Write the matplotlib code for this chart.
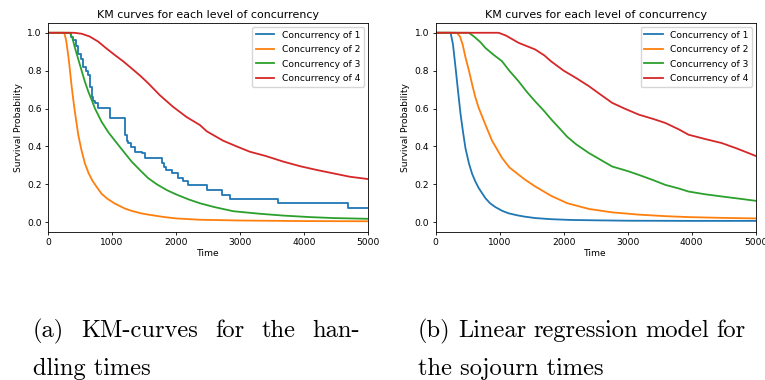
from __future__ import annotations

import matplotlib

matplotlib.use("Agg")
import matplotlib.pyplot as plt
import numpy as np


LABELS = ["Concurrency of 1", "Concurrency of 2", "Concurrency of 3", "Concurrency of 4"]
COLORS = ["#1f77b4", "#ff7f0e", "#2ca02c", "#d62728"]
X_TICKS = [0, 1000, 2000, 3000, 4000, 5000]
Y_TICKS = [0.0, 0.2, 0.4, 0.6, 0.8, 1.0]

# (a) handling times -- KM estimates
hand_t1 = [0, 360, 390, 430, 470, 510, 548, 590, 626, 652, 678, 705, 730, 783, 966,
           1200, 1225, 1253, 1300, 1357, 1461, 1513, 1774, 1810, 1850, 1931, 2035,
           2113, 2191, 2479, 2713, 2843, 3599, 4695, 5000]
hand_s1 = [1.0, 0.98, 0.96, 0.93, 0.89, 0.86, 0.82, 0.80, 0.777, 0.715, 0.663, 0.64,
           0.628, 0.601, 0.549, 0.46, 0.43, 0.416, 0.399, 0.373, 0.364, 0.338, 0.312,
           0.294, 0.276, 0.259, 0.232, 0.215, 0.197, 0.170, 0.144, 0.123, 0.10, 0.074,
           0.074]
hand_t2 = [0, 250, 280, 313, 340, 365, 390, 418, 444, 470, 520, 574, 630, 690, 760,
           835, 920, 1044, 1200, 1305, 1450, 1566, 1800, 2000, 2374, 3000, 4000, 5000]
hand_s2 = [1.0, 1.0, 0.96, 0.88, 0.80, 0.72, 0.65, 0.58, 0.52, 0.46, 0.38, 0.31, 0.26,
           0.22, 0.185, 0.15, 0.125, 0.098, 0.072, 0.06, 0.047, 0.04, 0.028, 0.02,
           0.013, 0.009, 0.006, 0.005]
hand_t3 = [0, 340, 380, 418, 470, 522, 575, 626, 680, 731, 783, 835, 940, 1044, 1150,
           1305, 1450, 1566, 1700, 1853, 2000, 2200, 2374, 2600, 2896, 3300, 3678,
           4100, 4460, 5000]
hand_s3 = [1.0, 1.0, 0.97, 0.92, 0.86, 0.80, 0.74, 0.69, 0.645, 0.60, 0.565, 0.53,
           0.475, 0.43, 0.385, 0.32, 0.27, 0.232, 0.2, 0.17, 0.147, 0.12, 0.1, 0.08,
           0.058, 0.045, 0.035, 0.027, 0.022, 0.018]
hand_t4 = [0, 400, 522, 650, 783, 900, 1044, 1170, 1305, 1450, 1566, 1748, 1950, 2166,
           2374, 2480, 2739, 2950, 3156, 3400, 3678, 3950, 4200, 4460, 4722, 5000]
hand_s4 = [1.0, 1.0, 0.995, 0.98, 0.953, 0.92, 0.882, 0.85, 0.812, 0.77, 0.733, 0.67,
           0.61, 0.555, 0.513, 0.48, 0.43, 0.40, 0.372, 0.35, 0.32, 0.295, 0.276,
           0.258, 0.24, 0.228]

# (b) sojourn times
soj_t1 = [0, 233, 270, 311, 350, 389, 430, 466, 520, 570, 620, 673, 777, 850, 932,
          1040, 1140, 1280, 1399, 1554, 1800, 2100, 2500, 3000, 4000, 5000]
soj_s1 = [1.0, 1.0, 0.94, 0.815, 0.69, 0.57, 0.47, 0.39, 0.31, 0.255, 0.215, 0.18,
          0.127, 0.10, 0.08, 0.06, 0.047, 0.036, 0.029, 0.022, 0.016, 0.012, 0.01,
          0.008, 0.007, 0.007]
soj_t2 = [0, 330, 380, 420, 466, 520, 570, 620, 673, 777, 881, 1036, 1150, 1280, 1399,
          1554, 1800, 2058, 2395, 2758, 3173, 3588, 3950, 4468, 5000]
soj_s2 = [1.0, 1.0, 0.98, 0.94, 0.87, 0.80, 0.727, 0.66, 0.603, 0.515, 0.43, 0.34,
          0.29, 0.255, 0.224, 0.189, 0.14, 0.1, 0.07, 0.052, 0.04, 0.032, 0.027,
          0.023, 0.02]
soj_t3 = [0, 518, 600, 700, 777, 900, 1036, 1150, 1295, 1420, 1554, 1700, 1800, 1950,
          2058, 2200, 2395, 2600, 2758, 3000, 3173, 3400, 3588, 3800, 3950, 4200,
          4468, 4750, 5000]
soj_s3 = [1.0, 1.0, 0.98, 0.95, 0.92, 0.885, 0.85, 0.80, 0.744, 0.69, 0.638, 0.585,
          0.545, 0.49, 0.45, 0.41, 0.365, 0.325, 0.294, 0.27, 0.25, 0.222, 0.197,
          0.178, 0.162, 0.148, 0.136, 0.124, 0.113]
soj_t4 = [0, 984, 1100, 1295, 1420, 1554, 1700, 1800, 2000, 2200, 2395, 2550, 2758,
          2950, 3173, 3400, 3588, 3800, 3950, 4200, 4468, 4700, 5000]
soj_s4 = [1.0, 1.0, 0.985, 0.947, 0.93, 0.912, 0.88, 0.85, 0.80, 0.76, 0.718, 0.68,
          0.63, 0.60, 0.568, 0.545, 0.524, 0.49, 0.462, 0.44, 0.418, 0.39, 0.35]

CAPTION_A = ["(a) KM-curves for the han-", "dling times"]
CAPTION_B = ["(b) Linear regression model for", "the sojourn times"]


def draw_panel(ax, curves, steps_first=False):
    for i, (t, s) in enumerate(curves):
        ds = "steps-post" if (steps_first and i == 0) else "default"
        ax.plot(t, s, color=COLORS[i], lw=1.3, drawstyle=ds, label=LABELS[i])
    ax.set_xlim(0, 5000)
    ax.set_ylim(-0.05, 1.05)
    ax.set_xticks(X_TICKS)
    ax.set_yticks(Y_TICKS)
    ax.set_title("KM curves for each level of concurrency", fontsize=7.9, pad=4)
    ax.set_xlabel("Time", labelpad=1.5)
    ax.set_ylabel("Survival Probability", labelpad=3)
    ax.legend(loc="upper right", fontsize=6.6, borderaxespad=0.4, labelspacing=0.6)


def justified_line(fig, words, x0, x1, y, **kw):
    # place words one by one so the line fills x0..x1 (figure fraction)
    renderer = fig.canvas.get_renderer()
    texts = [fig.text(0, y, w, **kw) for w in words]
    widths = [t.get_window_extent(renderer).width / fig.bbox.width for t in texts]
    gap = (x1 - x0 - sum(widths)) / (len(words) - 1)
    x = x0
    for t, w in zip(texts, widths):
        t.set_x(x)
        x += w + gap


def main() -> None:
    plt.rcParams["font.size"] = 6.6
    plt.rcParams["axes.linewidth"] = 0.6
    for ax_name in ("xtick", "ytick"):
        plt.rcParams[f"{ax_name}.major.size"] = 2.4
        plt.rcParams[f"{ax_name}.major.width"] = 0.6
        plt.rcParams[f"{ax_name}.major.pad"] = 2.3

    fig = plt.figure(figsize=(7.65, 3.8), dpi=100)
    ax_a = fig.add_axes([0.0631, 0.3903, 0.4175, 0.5484])
    ax_b = fig.add_axes([0.5695, 0.3903, 0.4183, 0.5484])

    draw_panel(
        ax_a,
        [(hand_t1, hand_s1), (hand_t2, hand_s2), (hand_t3, hand_s3), (hand_t4, hand_s4)],
        steps_first=True,
    )
    draw_panel(
        ax_b,
        [(soj_t1, soj_s1), (soj_t2, soj_s2), (soj_t3, soj_s3), (soj_t4, soj_s4)],
    )

    cap_kw = dict(fontsize=17.6, family="cmr10", va="baseline", ha="left")
    y1 = 1 - 337 / 380
    y2 = 1 - 375 / 380
    justified_line(fig, CAPTION_A[0].split(), 33 / 765, 360 / 765, y1, **cap_kw)
    fig.text(33 / 765, y2, CAPTION_A[1], **cap_kw)
    justified_line(fig, CAPTION_B[0].split(), 418 / 765, 745 / 765, y1, **cap_kw)
    fig.text(418 / 765, y2, CAPTION_B[1], **cap_kw)

    fig.savefig("out.png", dpi=100)
    plt.close(fig)


if __name__ == "__main__":
    main()
